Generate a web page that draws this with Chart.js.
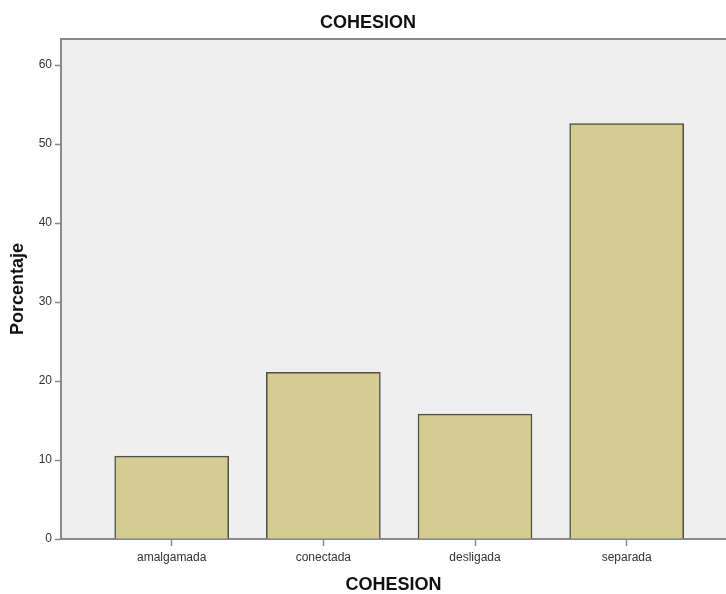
<!DOCTYPE html>
<html>
<head>
<meta charset="utf-8">
<script src="https://cdn.jsdelivr.net/npm/chart.js@4"></script>
<style>
  html, body { margin: 0; padding: 0; background: #ffffff; }
  #wrap { width: 726px; height: 594px; }
</style>
</head>
<body>
<div id="wrap"><canvas id="c" width="726" height="594"></canvas></div>
<script>
const categories = ['amalgamada', 'conectada', 'desligada', 'separada'];
const percentages = [10.5, 21.1, 15.8, 52.6];
const yTicks = [0, 10, 20, 30, 40, 50, 60];
const chartTitle = 'COHESION';
const xTitle = 'COHESION';
const yTitle = 'Porcentaje';

const points = categories.map((c, i) => ({ x: i, y: percentages[i] }));

const plotBg = {
  id: 'plotBg',
  beforeDraw(chart) {
    const { ctx, chartArea: a } = chart;
    ctx.save();
    ctx.fillStyle = '#efeff0';
    ctx.fillRect(a.left, a.top, a.right - a.left, a.bottom - a.top);
    ctx.strokeStyle = '#8a8a8a';
    ctx.lineWidth = 2;
    ctx.beginPath();
    ctx.moveTo(a.left, a.top);
    ctx.lineTo(a.right, a.top);
    ctx.stroke();
    ctx.restore();
  }
};

new Chart(document.getElementById('c'), {
  type: 'bar',
  data: {
    datasets: [{
      data: points,
      backgroundColor: '#d3cd93',
      borderColor: '#4f4f44',
      borderWidth: 1.5,
      barThickness: 114
    }]
  },
  options: {
    responsive: false,
    animation: false,
    layout: { padding: { left: 10, right: 0, top: 0, bottom: 0 } },
    plugins: {
      legend: { display: false },
      tooltip: { enabled: false },
      title: {
        display: true,
        text: chartTitle,
        color: '#111',
        font: { family: 'Liberation Sans', size: 18, weight: 'bold', lineHeight: 1.2 },
        padding: { top: 12, bottom: 5.4 }
      }
    },
    scales: {
      x: {
        type: 'linear',
        offset: false,
        min: -0.73,
        max: 3.655,
        ticks: {
          stepSize: 1,
          color: '#333',
          font: { family: 'Liberation Sans', size: 12 },
          padding: 4,
          maxRotation: 0,
          callback: (v) => categories[v] !== undefined ? categories[v] : ''
        },
        afterBuildTicks: (s) => { s.ticks = s.ticks.filter(t => Number.isInteger(t.value) && categories[t.value] !== undefined); },
        afterFit: (s) => { s.height = 55; },
        grid: { display: true, offset: false, drawOnChartArea: false, drawTicks: true, tickLength: 7, color: '#8a8a8a', tickWidth: 1.5 },
        border: { display: true, color: '#8a8a8a', width: 2 },
        title: {
          display: true,
          text: xTitle,
          color: '#111',
          font: { family: 'Liberation Sans', size: 18, weight: 'bold', lineHeight: 1 },
          padding: { top: 0, bottom: 0 }
        }
      },
      y: {
        min: 0,
        max: 63.3,
        ticks: {
          stepSize: 10,
          color: '#333',
          font: { family: 'Liberation Sans', size: 12 },
          padding: 3
        },
        afterBuildTicks: (s) => { s.ticks = yTicks.map(v => ({ value: v })); },
        afterFit: (s) => { s.width = 51; },
        grid: { display: true, drawOnChartArea: false, drawTicks: true, tickLength: 6, color: '#8a8a8a', tickWidth: 1.5 },
        border: { display: true, color: '#8a8a8a', width: 2 },
        title: {
          display: true,
          text: yTitle,
          color: '#111',
          font: { family: 'Liberation Sans', size: 18, weight: 'bold', lineHeight: 0.8 },
          padding: { top: 0.8, bottom: 0 }
        }
      }
    }
  },
  plugins: [plotBg]
});
</script>
</body>
</html>
